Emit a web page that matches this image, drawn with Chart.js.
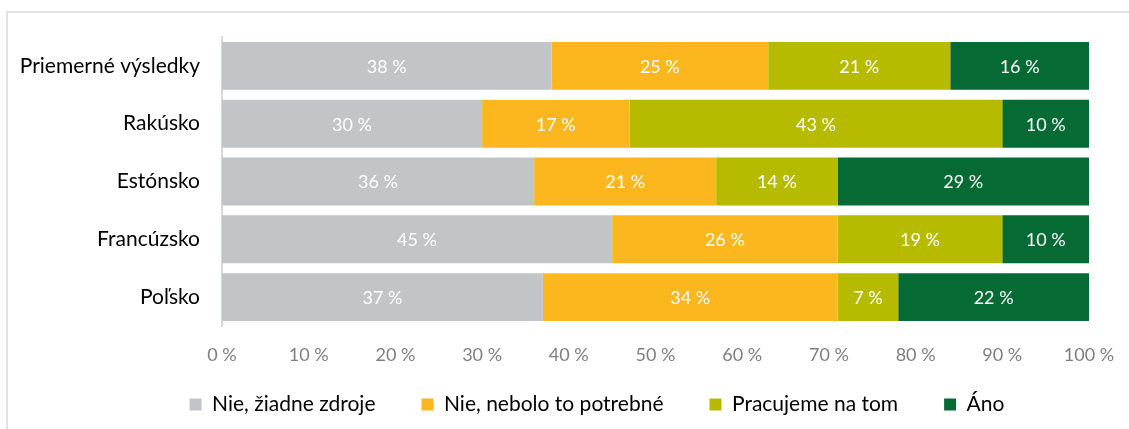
<!DOCTYPE html>
<html>
<head>
<meta charset="utf-8">
<script src="https://cdn.jsdelivr.net/npm/chart.js@4/dist/chart.umd.min.js"></script>
<style>
  html, body { margin: 0; padding: 0; background: #fff; overflow: hidden; }
  #frame { position: absolute; left: 6px; top: 11px; width: 2000px; height: 1000px; border: 2px solid #e2e2e2; }
  #wrap { position: absolute; left: 0; top: 0; width: 1129px; height: 429px; }
</style>
</head>
<body>
<div id="frame"></div>
<div id="wrap"><canvas id="chart"></canvas></div>
<script>
const categories = ['Priemerné výsledky', 'Rakúsko', 'Estónsko', 'Francúzsko', 'Poľsko'];
const seriesNames = ['Nie, žiadne zdroje', 'Nie, nebolo to potrebné', 'Pracujeme na tom', 'Áno'];
const noResources = [38, 30, 36, 45, 37];
const notNeeded = [25, 17, 21, 26, 34];
const working = [21, 43, 14, 19, 7];
const yes = [16, 10, 29, 10, 22];
const xTicks = [0, 10, 20, 30, 40, 50, 60, 70, 80, 90, 100];

const colors = ['#c1c5c7', '#fdb71e', '#b6bb00', '#066a34'];
const values = [noResources, notNeeded, working, yes];

// draws the value in the middle of each segment
const barLabels = {
  id: 'barLabels',
  afterDatasetsDraw(chart) {
    const ctx = chart.ctx;
    ctx.save();
    ctx.fillStyle = '#ffffff';
    ctx.font = '18px Lato';
    ctx.textAlign = 'center';
    ctx.textBaseline = 'middle';
    chart.data.datasets.forEach((ds, i) => {
      chart.getDatasetMeta(i).data.forEach((bar, j) => {
        const x = (bar.x + bar.base) / 2;
        ctx.fillText(ds.data[j] + ' %', x, bar.y + 1);
      });
    });
    ctx.restore();
  }
};

// put the legend row where it sits in the original
const legendPlace = {
  id: 'legendPlace',
  afterLayout(chart) {
    const lg = chart.legend;
    const h = lg.height;
    lg.left = 105;
    lg.right = 1089;
    lg.width = lg.right - lg.left;
    lg.top = 348;
    lg.bottom = lg.top + h;
    lg.adjustHitBoxes();
  }
};

const ctx = document.getElementById('chart');
new Chart(ctx, {
  type: 'bar',
  data: {
    labels: categories,
    datasets: seriesNames.map((name, i) => ({
      label: name,
      data: values[i],
      backgroundColor: colors[i],
      borderWidth: 0,
      barPercentage: 0.828,
      categoryPercentage: 1
    }))
  },
  options: {
    indexAxis: 'y',
    responsive: true,
    maintainAspectRatio: false,
    animation: false,
    layout: { padding: { left: 0, right: 40, top: 37, bottom: -16 } },
    scales: {
      x: {
        stacked: true,
        min: 0,
        max: 100,
        afterBuildTicks(scale) { scale.ticks = xTicks.map(v => ({ value: v })); },
        afterFit(scale) {
          scale.height = 42;
          scale.paddingLeft = 0;
          scale.paddingRight = 0;
        },
        grid: { display: false, drawTicks: false },
        border: { display: false },
        ticks: {
          color: '#7f7f7f',
          font: { family: 'Lato', size: 18 },
          padding: 18,
          callback: v => v + ' %'
        }
      },
      y: {
        stacked: true,
        afterFit(scale) { scale.width = 222; },
        grid: { display: false, drawTicks: false },
        border: { display: true, color: '#d9d9d9', width: 2 },
        ticks: {
          color: '#000000',
          font: { family: 'Lato', size: 21 },
          padding: 22
        }
      }
    },
    plugins: {
      legend: {
        position: 'bottom',
        labels: {
          color: '#000000',
          font: { family: 'Lato', size: 21 },
          boxWidth: 12,
          boxHeight: 12,
          padding: 46
        }
      },
      tooltip: { enabled: false }
    }
  },
  plugins: [barLabels, legendPlace]
});
</script>
</body>
</html>
